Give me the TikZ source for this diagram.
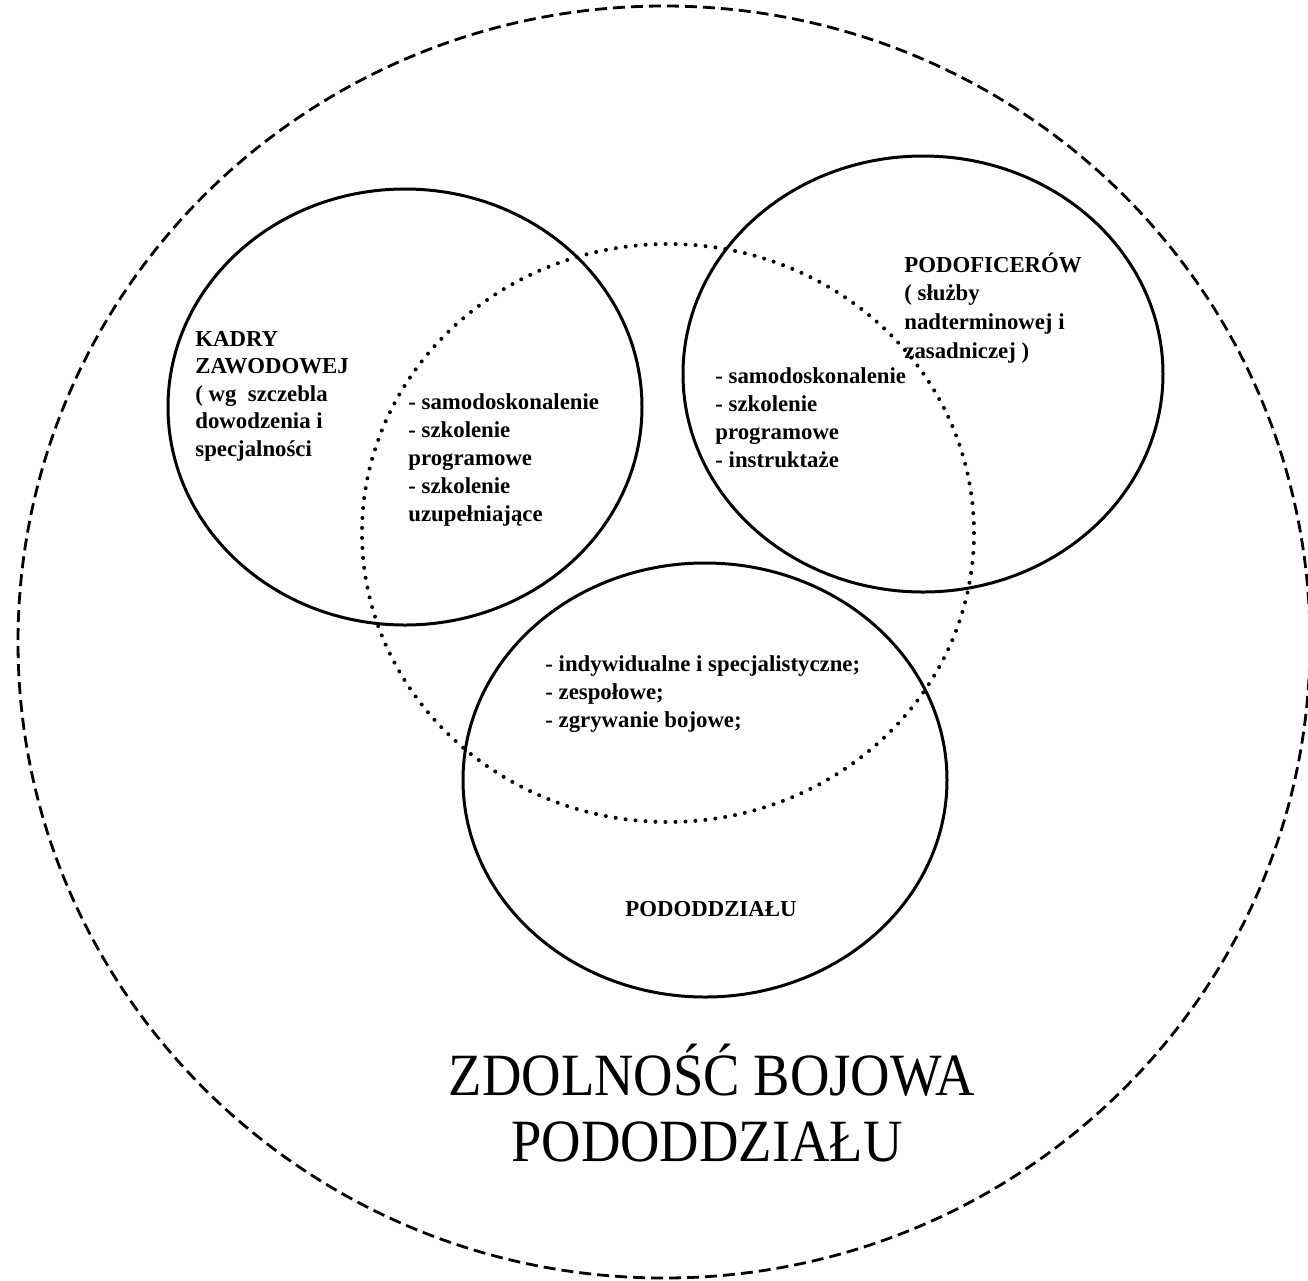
\documentclass[tikz,border=0pt]{standalone}
\usepackage{fontspec}
\setmainfont{Liberation Serif}
\begin{document}
\begin{tikzpicture}[x=0.5pt,y=-0.5pt,
  circ/.style={line width=1.5pt},
  outerring/.style={line width=1.4pt, dash pattern=on 6pt off 3pt},
  dotring/.style={line width=2pt, line cap=round, dash pattern=on 0pt off 5pt},
  lbl/.style={anchor=base west, inner sep=0pt, align=left, font=\bfseries\fontsize{11.4}{14}\selectfont},
  title/.style={anchor=base, inner sep=0pt, font=\fontsize{30}{36}\selectfont},
  ]
\useasboundingbox (0,0) rectangle (1308,1281);
\fill[white] (0,0) rectangle (1308,1281);
\draw[outerring] (664,642) ellipse [x radius=646, y radius=636];
\draw[dotring] (668,533) ellipse [x radius=306, y radius=289];
\draw[circ] (405,407) ellipse [x radius=237, y radius=218];
\draw[circ] (923,374) ellipse [x radius=240, y radius=218];
\draw[circ] (705,780) ellipse [x radius=242, y radius=217];

% base anchor of a multi-line node = baseline of its last line
\node[lbl, font=\bfseries\fontsize{11.4}{13.75}\selectfont] (kadry) at (195,456) {KADRY\\ZAWODOWEJ\\( wg\ \ szczebla\\dowodzenia i\\specjalności};
\node[lbl] (midlist) at (408,521) {- samodoskonalenie\\- szkolenie\\programowe\\- szkolenie\\uzupełniające};
\node[lbl, font=\bfseries\fontsize{11.4}{14.3}\selectfont] (podof) at (904,358) {PODOFICERÓW\\( służby\\nadterminowej i\\zasadniczej )};
\node[lbl, font=\bfseries\fontsize{11.4}{13.85}\selectfont] (rightlist) at (715,467) {- samodoskonalenie\\- szkolenie\\programowe\\- instruktaże};
\node[lbl] (botlist) at (545,727) {- indywidualne i specjalistyczne;\\- zespołowe;\\- zgrywanie bojowe;};
\node[lbl, anchor=base] (pododd) at (711,916) {PODODDZIAŁU};
\node[title] (title1) at (712,1095) {\scalebox{0.91}[1]{ZDOLNOŚĆ BOJOWA}};
\node[title] (title2) at (707,1161) {\scalebox{0.91}[1]{PODODDZIAŁU}};
\end{tikzpicture}
\end{document}
